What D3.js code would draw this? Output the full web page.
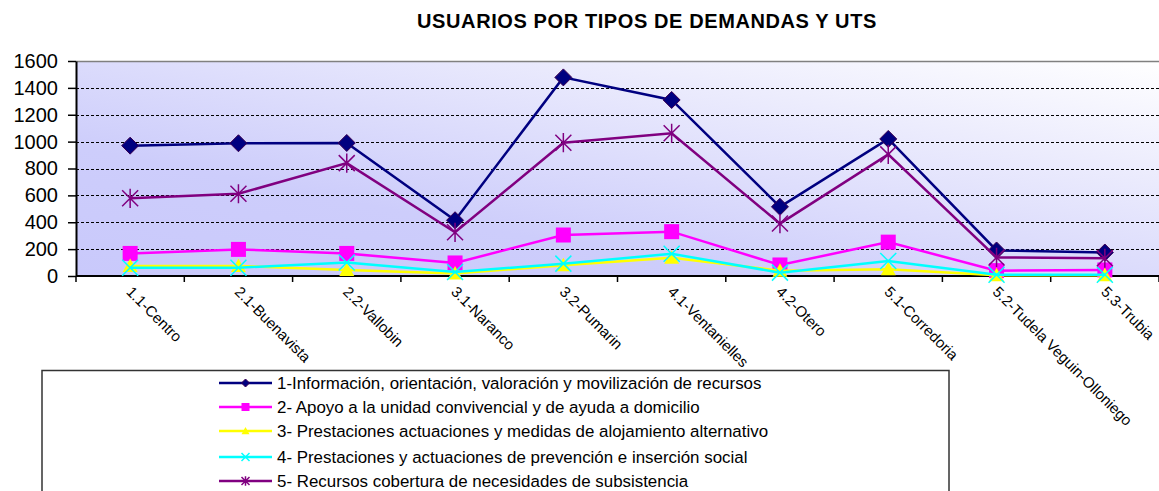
<!DOCTYPE html>
<html><head><meta charset="utf-8">
<script src="https://cdn.jsdelivr.net/npm/d3@7"></script>
<style>
body{margin:0;background:#fff;}
svg{display:block;font-family:"Liberation Sans",Arial,sans-serif;}
</style></head>
<body>
<svg id="c" width="1159" height="491"></svg>
<script>
const categories = ["1.1-Centro","2.1-Buenavista","2.2-Vallobin","3.1-Naranco","3.2-Pumarin","4.1-Ventanielles","4.2-Otero","5.1-Corredoria","5.2-Tudela Veguin-Olloniego","5.3-Trubia"];
const serie1 = [970, 988, 990, 415, 1478, 1310, 515, 1020, 190, 175];
const serie2 = [168, 198, 168, 97, 305, 330, 82, 252, 40, 45];
const serie3 = [75, 75, 45, 18, 80, 135, 40, 50, 5, 5];
const serie4 = [62, 62, 100, 30, 92, 165, 25, 112, 10, 10];
const serie5 = [578, 612, 840, 325, 992, 1062, 390, 905, 138, 132];
const seriesNames = [
  "1-Información, orientación, valoración y movilización de recursos",
  "2- Apoyo a la unidad convivencial y de ayuda a domicilio",
  "3- Prestaciones actuaciones y medidas de alojamiento alternativo",
  "4- Prestaciones y actuaciones de prevención e inserción social",
  "5- Recursos cobertura de necesidades de subsistencia"
];
const yTicks = [0,200,400,600,800,1000,1200,1400,1600];
const title = "USUARIOS POR TIPOS DE DEMANDAS Y UTS";

const seriesValues = [serie1, serie2, serie3, serie4, serie5];
const colors = ["#000080","#FF00FF","#FFFF00","#00FFFF","#800080"];
const markers = ["diamond","square","triangle","x","star"];

const svg = d3.select("#c");
const L = 76, R = 1159, T = 61, B = 276;

const x = d3.scaleBand().domain(categories).range([L, R]).padding(0);
const cx = d => x(d) + x.bandwidth()/2;
const y = d3.scaleLinear().domain([0,1600]).range([B, T]);

const defs = svg.append("defs");
const g = defs.append("linearGradient").attr("id","bg")
  .attr("x1","0").attr("y1","1").attr("x2","1").attr("y2","0");
g.append("stop").attr("offset","0").attr("stop-color","#c9c9fb");
g.append("stop").attr("offset","0.3").attr("stop-color","#cdcdfb");
g.append("stop").attr("offset","0.75").attr("stop-color","#ededfd");
g.append("stop").attr("offset","1").attr("stop-color","#ffffff");

svg.append("rect").attr("x",L).attr("y",T).attr("width",R-L).attr("height",B-T).attr("fill","url(#bg)");
svg.append("line").attr("x1",L).attr("x2",R).attr("y1",T+0.5).attr("y2",T+0.5).attr("stroke","#808080").attr("stroke-width",1.5);

// gridlines
svg.append("g").selectAll("line").data(yTicks.filter(v=>v>0 && v<1600)).join("line")
  .attr("x1",L).attr("x2",R).attr("y1",d=>Math.round(y(d))+0.5).attr("y2",d=>Math.round(y(d))+0.5)
  .attr("stroke","#000").attr("stroke-width",1).attr("stroke-dasharray","3,2");

// title
svg.append("text").attr("x",647).attr("y",28).attr("text-anchor","middle")
  .attr("font-weight","bold").attr("font-size",20).attr("letter-spacing",0.6).attr("fill","#000").text(title);

// y axis
const yAxis = svg.append("g").attr("transform",`translate(${L},0)`)
  .call(d3.axisLeft(y).tickValues(yTicks).tickFormat(d3.format("d")).tickSize(8).tickPadding(10).tickSizeOuter(0));
yAxis.select(".domain").attr("stroke","#000").attr("stroke-width",2);
yAxis.selectAll(".tick line").attr("stroke","#000").attr("stroke-width",1.5);
yAxis.selectAll("text").attr("font-size",20).attr("font-family","Liberation Sans, Arial, sans-serif").attr("fill","#000");

// x axis
const bounds = categories.map(c=>x(c)).concat([R]);
svg.append("line").attr("x1",L).attr("x2",R).attr("y1",B).attr("y2",B).attr("stroke","#000").attr("stroke-width",2);
svg.append("g").selectAll("line").data(bounds).join("line")
  .attr("x1",d=>d).attr("x2",d=>d).attr("y1",B).attr("y2",B+6).attr("stroke","#000").attr("stroke-width",1.5);
svg.append("g").selectAll("text").data(categories).join("text")
  .attr("transform",d=>`translate(${cx(d)-1},${B+13}) rotate(45)`)
  .attr("font-size",15).attr("fill","#000").attr("dy","0.35em").text(d=>d);

// series
const line = d3.line().x((d,i)=>cx(categories[i])).y(d=>y(d));
function drawMarker(sel, type, color, s){
  if(type==="diamond"){
    sel.append("path").attr("d",`M0,${-s}L${s},0L0,${s}L${-s},0Z`).attr("fill",color).attr("stroke","#3a0050").attr("stroke-width",1);
  } else if(type==="square"){
    sel.append("rect").attr("x",-s).attr("y",-s).attr("width",2*s).attr("height",2*s).attr("fill",color);
  } else if(type==="triangle"){
    sel.append("path").attr("d",`M0,${-s}L${s},${s*0.8}L${-s},${s*0.8}Z`).attr("fill",color);
  } else if(type==="x"){
    sel.append("path").attr("d",`M${-s},${-s}L${s},${s}M${-s},${s}L${s},${-s}`).attr("stroke",color).attr("stroke-width",1.5);
  } else if(type==="star"){
    sel.append("path").attr("d",`M${-s},${-s}L${s},${s}M${-s},${s}L${s},${-s}M0,${-s*1.2}L0,${s*1.2}`).attr("stroke",color).attr("stroke-width",1.5);
  }
}
const markerSize = [8.5,7.5,7.5,8,8];
seriesValues.forEach((vals,k)=>{
  svg.append("path").datum(vals).attr("d",line).attr("fill","none").attr("stroke",colors[k]).attr("stroke-width",2.5);
  vals.forEach((v,i)=>{
    const m = svg.append("g").attr("transform",`translate(${cx(categories[i])},${y(v)})`);
    drawMarker(m, markers[k], colors[k], markerSize[k]);
  });
});

// legend
svg.append("rect").attr("x",42).attr("y",370.5).attr("width",907).attr("height",140)
  .attr("fill","#fff").attr("stroke","#333").attr("stroke-width",1.5);
const legY = [383,407,431,457,481];
seriesNames.forEach((n,k)=>{
  const lg = svg.append("g").attr("transform",`translate(0,${legY[k]})`);
  lg.append("line").attr("x1",219).attr("x2",272).attr("y1",0).attr("y2",0).attr("stroke",colors[k]).attr("stroke-width",2.5);
  const m = lg.append("g").attr("transform","translate(245.5,0)");
  drawMarker(m, markers[k], colors[k], 4);
  lg.append("text").attr("x",277).attr("y",0).attr("dy","0.35em").attr("font-size",16.9).attr("fill","#000").text(n);
});
</script>
</body></html>
